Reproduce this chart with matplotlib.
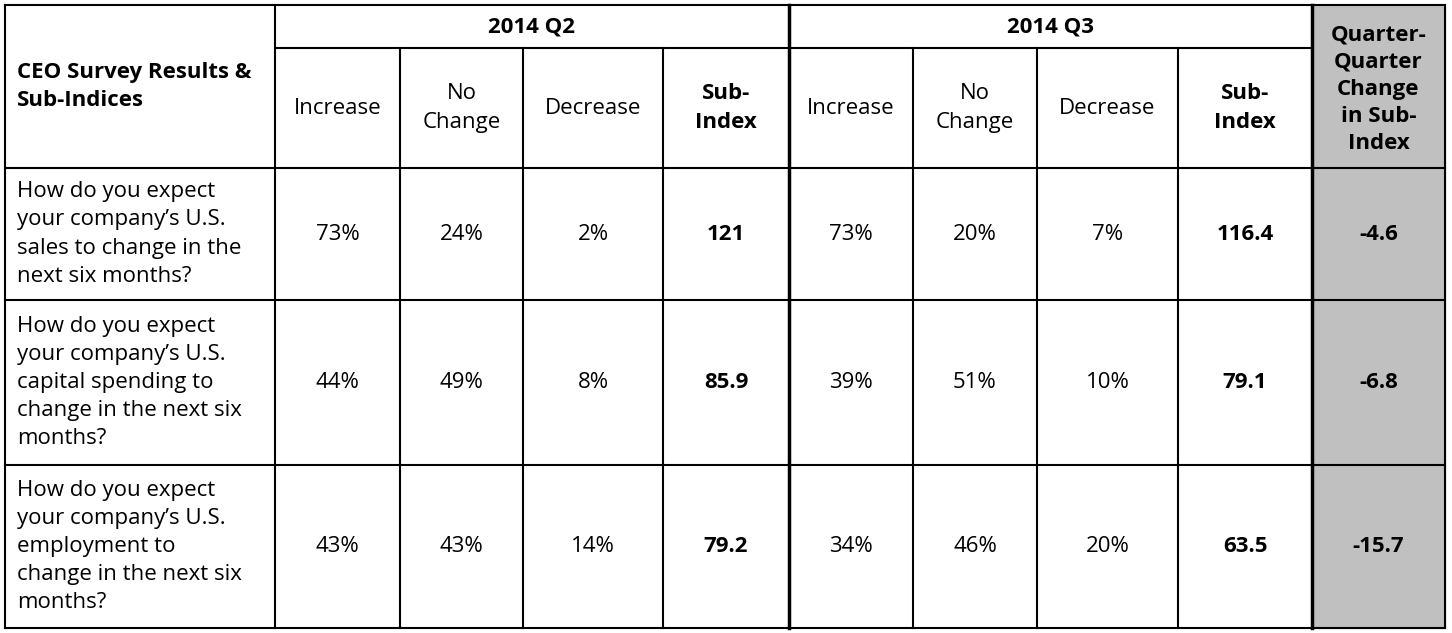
import matplotlib.pyplot as plt

plt.rcParams['font.family'] = ['Open Sans', 'DejaVu Sans']

questions = ["How do you expect\nyour company\u2019s U.S.\nsales to change in the\nnext six months?",
             "How do you expect\nyour company\u2019s U.S.\ncapital spending to\nchange in the next six\nmonths?",
             "How do you expect\nyour company\u2019s U.S.\nemployment to\nchange in the next six\nmonths?"]
quarters = ["2014 Q2", "2014 Q3"]
subcols = ["Increase", "No\nChange", "Decrease", "Sub-\nIndex"]
q2 = [["73%", "24%", "2%", "121"], ["44%", "49%", "8%", "85.9"], ["43%", "43%", "14%", "79.2"]]
q3 = [["73%", "20%", "7%", "116.4"], ["39%", "51%", "10%", "79.1"], ["34%", "46%", "20%", "63.5"]]
change = ["-4.6", "-6.8", "-15.7"]

W, H = 1452, 633
xs = [5, 275, 400, 523, 663, 789, 913, 1037, 1178, 1312, 1445]
ys = [5, 48, 168, 300, 465, 628]

fig = plt.figure(figsize=(W / 100, H / 100), dpi=100)
ax = fig.add_axes([0, 0, 1, 1])
ax.set_xlim(0, W); ax.set_ylim(H, 0); ax.axis('off')

ax.add_patch(plt.Rectangle((xs[9], ys[0]), xs[10] - xs[9], ys[5] - ys[0], color='#c0c0c0', zorder=0))

fs = 16
# horizontal lines
for y in ys:
    x0 = xs[1] if y == ys[1] else xs[0]
    x1 = xs[9] if y == ys[1] else xs[10]
    ax.plot([x0, x1], [y, y], color='black', lw=1.5)
for i, x in enumerate(xs):
    y0 = ys[1] if i in (2, 3, 4, 6, 7, 8) else ys[0]
    lw = 2.5 if i in (5, 9) else 1.5
    ax.plot([x, x], [y0, ys[5]], color='black', lw=lw)

def cx(i):
    return (xs[i] + xs[i + 1]) / 2

ax.text(17, (ys[0] + ys[2]) / 2, "CEO Survey Results &\nSub-Indices", ha='left', va='center',
        fontsize=fs, fontweight='bold', linespacing=1.45)
ax.text((xs[1] + xs[5]) / 2, (ys[0] + ys[1]) / 2, quarters[0], ha='center', va='center', fontsize=fs, fontweight='bold')
ax.text((xs[5] + xs[9]) / 2, (ys[0] + ys[1]) / 2, quarters[1], ha='center', va='center', fontsize=fs, fontweight='bold')
ax.text(cx(9), (ys[0] + ys[2]) / 2 + 3, "Quarter-\nQuarter\nChange\nin Sub-\nIndex", ha='center', va='center',
        fontsize=fs, fontweight='bold', linespacing=1.38)
for k, lab in enumerate(subcols):
    for off in (1, 5):
        ax.text(cx(off + k), (ys[1] + ys[2]) / 2, lab, ha='center', va='center', fontsize=fs,
                fontweight='bold' if k == 3 else 'normal', linespacing=1.45)

for r in range(3):
    ym = (ys[r + 2] + ys[r + 3]) / 2
    ax.text(17, ym, questions[r], ha='left', va='center', fontsize=fs, linespacing=1.45)
    for k in range(4):
        w = 'bold' if k == 3 else 'normal'
        ax.text(cx(1 + k), ym, q2[r][k], ha='center', va='center', fontsize=fs, fontweight=w)
        ax.text(cx(5 + k), ym, q3[r][k], ha='center', va='center', fontsize=fs, fontweight=w)
    ax.text(cx(9), ym, change[r], ha='center', va='center', fontsize=fs, fontweight='bold')

fig.savefig('out.png', dpi=100)
